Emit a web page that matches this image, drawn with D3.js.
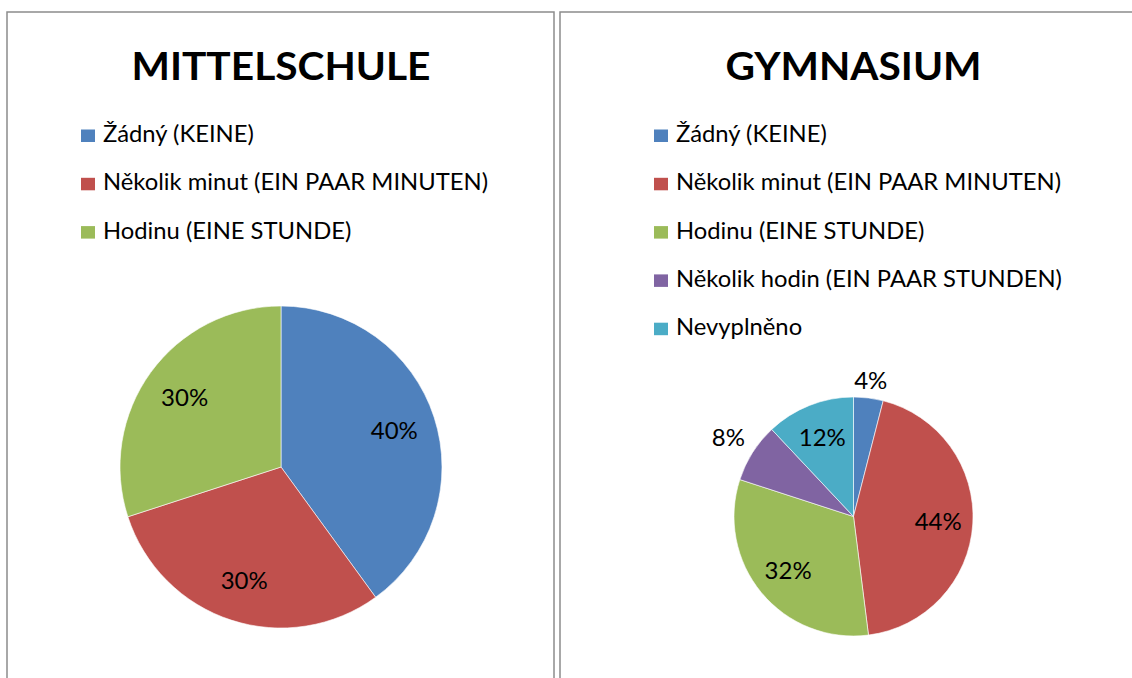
<!DOCTYPE html>
<html>
<head>
<meta charset="utf-8">
<script src="https://cdn.jsdelivr.net/npm/d3@7"></script>
<style>
  html, body { margin: 0; padding: 0; background: #fff; }
  svg { display: block; }
  text { font-family: Lato, "Open Sans", sans-serif; fill: #000; }
</style>
</head>
<body>
<svg id="svg" width="1132" height="678"></svg>
<script>
// categories (legend order)
var categories = ["Žádný (KEINE)", "Několik minut (EIN PAAR MINUTEN)", "Hodinu (EINE STUNDE)",
                  "Několik hodin (EIN PAAR STUNDEN)", "Nevyplněno"];
var colors = ["#4F81BD", "#C0504D", "#9BBB59", "#8064A2", "#4BACC6"];

// series values in percent
var mittelschuleValues = [40, 30, 30];
var gymnasiumValues = [4, 44, 32, 8, 12];

var titles = ["MITTELSCHULE", "GYMNASIUM"];

var svg = d3.select("#svg");

// panel layout
var panels = [
  {x: 7, w: 547, cx: 281, cy: 467, r: 161, legendX: 81, values: mittelschuleValues, title: titles[0]},
  {x: 560, w: 600, cx: 853.5, cy: 516.5, r: 119.5, legendX: 654, values: gymnasiumValues, title: titles[1]}
];

var pie = d3.pie().sort(null).value(function(d){ return d; });

// stretch texts a bit so they get the wider calibri-like proportions of the original
function fit(sel, factor){
  sel.each(function(){
    var w = this.getComputedTextLength();
    d3.select(this).attr("textLength", w * factor).attr("lengthAdjust", "spacingAndGlyphs");
  });
}

var titleTexts = [], legendTexts = [];

panels.forEach(function(p, pi){
  var g = svg.append("g");

  // frame
  g.append("rect")
    .attr("x", p.x).attr("y", 12)
    .attr("width", p.w).attr("height", 700)
    .attr("fill", "none")
    .attr("stroke", "#8c8c8c")
    .attr("stroke-width", 1.5);

  // title
  titleTexts.push(g.append("text")
    .attr("class", "title")
    .attr("x", p.cx).attr("y", 80)
    .attr("text-anchor", "middle")
    .style("font-size", "39px")
    .style("font-weight", "bold")
    .text(p.title).node());

  // legend
  var leg = g.selectAll(".leg")
    .data(p.values.map(function(v, i){ return i; }))
    .enter().append("g")
    .attr("transform", function(d){ return "translate(" + p.legendX + "," + (142 + d * 48.3) + ")"; });
  leg.append("rect")
    .attr("x", 0).attr("y", -12.5)
    .attr("width", 14).attr("height", 12.5)
    .attr("fill", function(d){ return colors[d]; });
  leg.append("text")
    .attr("class", "legtext")
    .attr("x", 22).attr("y", 0)
    .style("font-size", "23px")
    .text(function(d){ return categories[d]; });

  // pie
  var arcs = pie(p.values);
  var arc = d3.arc().innerRadius(0).outerRadius(p.r);
  var pg = g.append("g").attr("transform", "translate(" + p.cx + "," + p.cy + ")");
  pg.selectAll("path")
    .data(arcs)
    .enter().append("path")
    .attr("d", arc)
    .attr("fill", function(d, i){ return colors[i]; })
    .attr("stroke", "#fff")
    .attr("stroke-width", 0.6);

  // labels: small slices go outside
  pg.selectAll(".lbl")
    .data(arcs)
    .enter().append("text")
    .attr("text-anchor", "middle")
    .attr("dy", "0.36em")
    .style("font-size", "24px")
    .attr("transform", function(d){
      var small = d.data < 10;
      var k = small ? (d.data < 5 ? 1.15 : 1.24) : (pi === 0 ? 0.74 : 0.71);
      var a = (d.startAngle + d.endAngle) / 2;
      return "translate(" + (Math.sin(a) * p.r * k) + "," + (-Math.cos(a) * p.r * k) + ")";
    })
    .text(function(d){ return d.data + "%"; });
});

// horizontal proportions: title MITTELSCHULE ~299px wide, longest legend entry ~385px wide
var titleFactor = 299 / titleTexts[0].getComputedTextLength();
fit(svg.selectAll("text.title"), titleFactor);
var legNode = svg.selectAll("text.legtext").filter(function(d){ return d === 1; }).node();
var legFactor = 385 / legNode.getComputedTextLength();
fit(svg.selectAll("text.legtext"), legFactor);
</script>
</body>
</html>
